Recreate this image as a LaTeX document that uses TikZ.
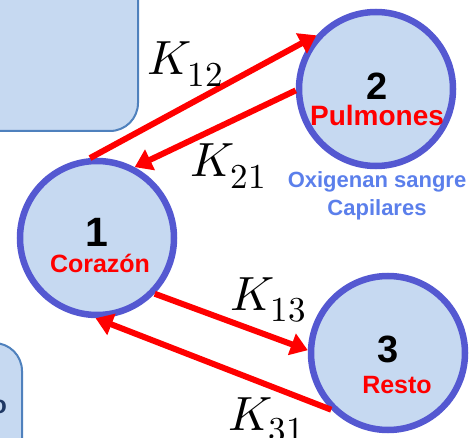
\documentclass[tikz,border=0pt]{standalone}
\usepackage{fontspec}
\usepackage{unicode-math}
\setmainfont{Liberation Sans}
\setmathfont{Latin Modern Math}
\DeclareMathSizes{48}{48}{35}{26}
\usetikzlibrary{arrows.meta}
\definecolor{boxfill}{RGB}{198,217,241}
\definecolor{boxline}{RGB}{79,129,189}
\definecolor{ringline}{RGB}{84,88,209}
\definecolor{notecol}{RGB}{91,127,235}
\definecolor{navy}{RGB}{31,56,100}
\tikzset{
  compart/.style={circle, draw=ringline, fill=boxfill, line width=6.5pt,
    minimum size=154pt, inner sep=0pt},
  numtext/.style={anchor=base, inner sep=0pt, font=\bfseries\fontsize{38}{44}\selectfont},
  organ/.style={anchor=base, inner sep=0pt, text=red, font=\bfseries\fontsize{25}{30}\selectfont},
  note/.style={anchor=base, inner sep=0pt, text=notecol, font=\bfseries\fontsize{22}{26}\selectfont},
  rate/.style={anchor=base west, inner sep=0pt, font=\fontsize{48}{58}\selectfont},
  flow/.style={draw=red, line width=6pt, -{Triangle[length=17pt,width=22pt]}},
  panel/.style={draw=boxline, fill=boxfill, line width=2pt, rounded corners=28pt}
}
\begin{document}
\begin{tikzpicture}[x=1pt,y=1pt]
\useasboundingbox (0,0) rectangle (471,437);
\clip (0,0) rectangle (471,437);

% side panels
\draw[panel] (-40,306) rectangle (138,480);
\draw[panel] (-60,94) rectangle (22,-60);
\node[anchor=base east, inner sep=0pt, text=navy,
  font=\bfseries\fontsize{25}{30}\selectfont] (paneltext) at (7,24) {o};

% compartments
\node[compart] (c1) at (97,199) {};
\node[compart] (c2) at (376,348) {};
\node[compart] (c3) at (388,84) {};

\node[numtext, font=\bfseries\fontsize{41}{48}\selectfont] (n1) at (97,190) {1};
\node[organ] (o1) at (100,165) {Corazón};
\node[numtext] (n2) at (377,337) {2};
\node[organ, font=\bfseries\fontsize{28}{33}\selectfont] (o2) at (377,311) {Pulmones};
\node[numtext] (n3) at (388,75) {3};
\node[organ] (o3) at (397,44) {Resto};

\node[note] (m1) at (377,249) {Oxigenan sangre};
\node[note] (m2) at (377,222) {Capilares};

% transfer flows
\draw[flow] (c1.95) -- (c2.138);
\draw[flow] (c2.181) -- (c1.62);
\draw[flow] (c1.-44) -- (c3.178);
\draw[flow] (c3.225) -- (c1.-91);

% rate constants
\node[rate] (k12) at (147,362) {$K_{12}$};
\node[rate] (k21) at (190,260) {$K_{21}$};
\node[rate] (k13) at (230,127) {$K_{13}$};
\node[rate] (k31) at (228,7) {$K_{31}$};
\end{tikzpicture}
\end{document}
